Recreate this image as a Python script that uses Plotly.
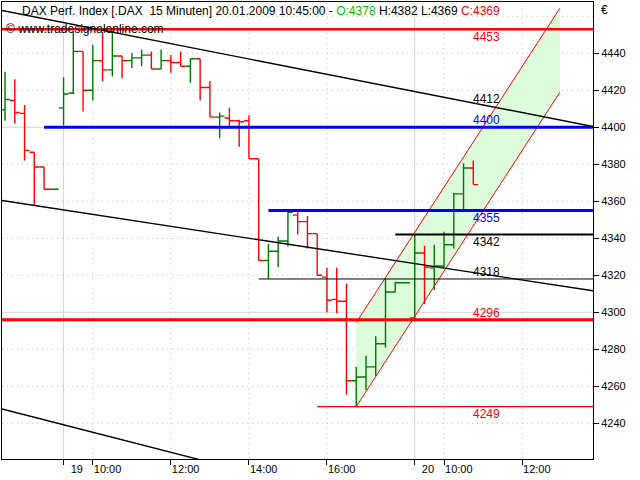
import plotly.graph_objects as go

# ---------------- data ----------------
bar_index = list(range(49))
opens = [4409.5, 4414.5, 4407.5, 4386.5, 4378.5, 4366.5, 4410.5, 4418.5, 4441, 4420,
         4436, 4431, 4438.5, 4436, 4437.5, 4439, 4431.5, 4436, 4435, 4433,
         4437, 4421.5, 4405.5, 4405, 4403.5, 4403.5, 4383, 4328, 4333, 4338.5,
         4352.5, 4349, 4342.5, 4319, 4307, 4306, 4263, 4265, 4270.5, 4283,
         4311, 4316, 4297, 4332, 4324, 4325, 4336.5, 4364, 4378]
highs = [4430, 4426, 4412, 4386.5, 4378.5, 4366.5, 4427, 4452, 4441, 4444.5,
         4451, 4452, 4438.5, 4440, 4442, 4441, 4442, 4439, 4441, 4437,
         4437, 4425, 4408, 4410.5, 4404, 4406.5, 4383, 4337, 4341, 4354.5,
         4354.5, 4352, 4342.5, 4324, 4324, 4315.5, 4270.5, 4276.5, 4287, 4318,
         4316.5, 4316, 4342, 4336, 4336.5, 4343.5, 4364.5, 4380.5, 4382]
lows = [4403.5, 4402, 4382, 4358, 4366.5, 4366.5, 4401, 4418, 4408.5, 4414.5,
        4425, 4427.5, 4426.5, 4432, 4433, 4431.5, 4431.5, 4429.5, 4433, 4424,
        4414.5, 4405.5, 4394, 4400, 4389.5, 4383, 4328, 4318, 4324.5, 4335.5,
        4342, 4334.5, 4320, 4300, 4299.5, 4255.5, 4249, 4258, 4265.5, 4281,
        4311, 4316, 4296, 4304.5, 4312, 4324.5, 4334.5, 4355, 4369]
closes = [4415, 4408, 4387.5, 4378.5, 4366.5, 4366.5, 4418, 4441, 4420, 4436,
          4431, 4438.5, 4436, 4437.5, 4439, 4431.5, 4436, 4435, 4433, 4437,
          4421.5, 4405.5, 4406, 4403.5, 4403, 4383, 4328, 4333, 4338.5, 4354,
          4349, 4342.5, 4320, 4306.5, 4306, 4263, 4265, 4270.5, 4283, 4311,
          4316, 4316, 4332, 4324.5, 4325, 4336.5, 4364, 4378, 4369]

tick_index = [6, 9, 17, 25, 33, 42, 45, 53]
tick_labels = ["\u00a0\u00a019", "10:00", "12:00", "14:00", "16:00", "\u00a0\u00a020", "10:00", "12:00"]
day_start_index = [6, 42]

price_ticks = [4240, 4260, 4280, 4300, 4320, 4340, 4360, 4380, 4400, 4420, 4440]
grid_prices = [4240, 4260, 4280, 4300, 4320, 4340, 4360, 4380, 4400, 4420, 4440, 4460]

# horizontal level lines: value, first bar (None = from the left edge)
level_values = [4453, 4400, 4355, 4342, 4318, 4296, 4249]
level_start_bar = [None, 4, 27, 40, 26, None, 32]

# level labels
label_values = [4453, 4412, 4400, 4355, 4342, 4318, 4296, 4249]

# drawn trend lines (bar index, price)
trend_upper_x = [-0.31, 60.27]
trend_upper_y = [4463.1, 4400.4]
trend_mid_x = [-0.31, 60.27]
trend_mid_y = [4360.4, 4311.6]
trend_low_x = [-0.31, 25.0]
trend_low_y = [4247.7, 4213.5]

# channel
channel_start = 36
channel_end = 56.88
channel_base = 4249
channel_slope = 8.14
channel_width = 45.4

# ---------------- styles ----------------
X_RANGE = [-0.31, 60.27]
Y_RANGE = [4220.7, 4467.7]
FONT = "Liberation Sans, Arial, sans-serif"
GREEN = "#007800"
RED = "#ff0000"
BLUE = "#0000ff"

level_colors = [RED, BLUE, BLUE, "black", "black", RED, RED]
level_widths = [2.5, 3, 3, 2, 1, 3, 1.2]
label_colors = [RED, "black", BLUE, BLUE, "black", "black", RED, RED]
label_shift = [-8, 6, 7, -7, -7, 7, 7, -7]
label_x = 49.33

fig = go.Figure()

# grid (shapes, below)
shapes = []
for p in grid_prices:
    solid = (p % 100 == 0)
    shapes.append(dict(type="line", xref="x", yref="y", x0=X_RANGE[0], x1=X_RANGE[1], y0=p, y1=p,
                       layer="below",
                       line=dict(color="#d4d4d4" if solid else "#c4c4c4", width=1,
                                 dash="solid" if solid else "1px,4px")))
for t in tick_index:
    solid = t in day_start_index
    shapes.append(dict(type="line", xref="x", yref="y", x0=t, x1=t, y0=Y_RANGE[0], y1=Y_RANGE[1],
                       layer="below",
                       line=dict(color="#d4d4d4" if solid else "#c4c4c4", width=1,
                                 dash="solid" if solid else "1px,4px")))

# channel fill (below the bars)
cx0, cx1 = channel_start, channel_end
lo0 = channel_base
lo1 = channel_base + (cx1 - cx0) * channel_slope
hi0, hi1 = lo0 + channel_width, lo1 + channel_width
shapes.append(dict(type="path", xref="x", yref="y", layer="below",
                   path=f"M {cx0},{lo0} L {cx1},{lo1} L {cx1},{hi1} L {cx0},{hi0} Z",
                   fillcolor="#dcfcdc", line=dict(width=0)))

# OHLC bars split by direction
up = [i for i in bar_index if closes[i] >= opens[i]]
dn = [i for i in bar_index if closes[i] < opens[i]]
for sel, col in ((up, GREEN), (dn, RED)):
    fig.add_trace(go.Ohlc(x=sel,
                          open=[opens[i] for i in sel], high=[highs[i] for i in sel],
                          low=[lows[i] for i in sel], close=[closes[i] for i in sel],
                          increasing=dict(line=dict(color=col, width=1.4)),
                          decreasing=dict(line=dict(color=col, width=1.4)),
                          tickwidth=0.5, hoverinfo="skip"))

# channel edges
fig.add_trace(go.Scatter(x=[cx0, cx1], y=[lo0, lo1], mode="lines",
                         line=dict(color=RED, width=1), hoverinfo="skip"))
fig.add_trace(go.Scatter(x=[cx0, cx1], y=[hi0, hi1], mode="lines",
                         line=dict(color=RED, width=1), hoverinfo="skip"))

# level lines
for v, s, c, w in zip(level_values, level_start_bar, level_colors, level_widths):
    x0 = X_RANGE[0] if s is None else s
    fig.add_trace(go.Scatter(x=[x0, X_RANGE[1]], y=[v, v], mode="lines",
                             line=dict(color=c, width=w), hoverinfo="skip"))

# trend lines
for tx, ty in ((trend_upper_x, trend_upper_y), (trend_mid_x, trend_mid_y), (trend_low_x, trend_low_y)):
    fig.add_trace(go.Scatter(x=tx, y=ty, mode="lines", line=dict(color="black", width=1.4),
                             hoverinfo="skip"))

annotations = []
for v, c, s in zip(label_values, label_colors, label_shift):
    annotations.append(dict(x=label_x, y=v, xref="x", yref="y", text=str(v), showarrow=False,
                            yshift=s, font=dict(family=FONT, size=12, color=c)))

title_text = ("DAX Perf. Index [.DAX\u00a0\u00a015 Minuten] 20.01.2009 10:45:00 - "
              "<span style='color:#00c000'>O:4378</span> H:4382 L:4369 "
              "<span style='color:#ff0000'>C:4369</span>")
annotations.append(dict(x=(20 - 2) / 591, y=(459 - 11) / 457, xref="paper", yref="paper",
                        xanchor="left", yanchor="middle", text=title_text, showarrow=False,
                        font=dict(family=FONT, size=12, color="black")))
annotations.append(dict(x=(4 - 2) / 591, y=(459 - 29) / 457, xref="paper", yref="paper",
                        xanchor="left", yanchor="middle", text="© www.tradesignalonline.com",
                        showarrow=False, font=dict(family=FONT, size=12, color="black")))
annotations.append(dict(x=(599 - 2) / 591, y=(459 - 10) / 457, xref="paper", yref="paper",
                        xanchor="left", yanchor="middle", text="€",
                        showarrow=False, font=dict(family=FONT, size=12, color="black")))

fig.update_layout(
    template="none",
    width=640, height=480,
    margin=dict(l=2, r=47, t=2, b=21, autoexpand=False),
    paper_bgcolor="white", plot_bgcolor="white",
    showlegend=False,
    shapes=shapes, annotations=annotations,
    font=dict(family=FONT, size=11, color="black"),
    xaxis=dict(range=X_RANGE, tickvals=tick_index, ticktext=tick_labels,
               ticks="outside", ticklen=5, tickcolor="black", tickangle=0,
               ticklabelposition="outside right", automargin=False,
               showgrid=False, zeroline=False, showline=True, mirror=True,
               linecolor="black", linewidth=1, rangeslider=dict(visible=False),
               tickfont=dict(family=FONT, size=11, color="black")),
    yaxis=dict(range=Y_RANGE, side="right", tickvals=price_ticks, automargin=False,
               ticks="outside", ticklen=5, tickcolor="black",
               showgrid=False, zeroline=False, showline=True, mirror=True,
               linecolor="black", linewidth=1,
               tickfont=dict(family=FONT, size=11, color="black")),
)

fig.write_html("out.html",
               config={"displayModeBar": False, "staticPlot": True},
               post_script="document.body.style.margin='0px';document.body.style.overflow='hidden';")
